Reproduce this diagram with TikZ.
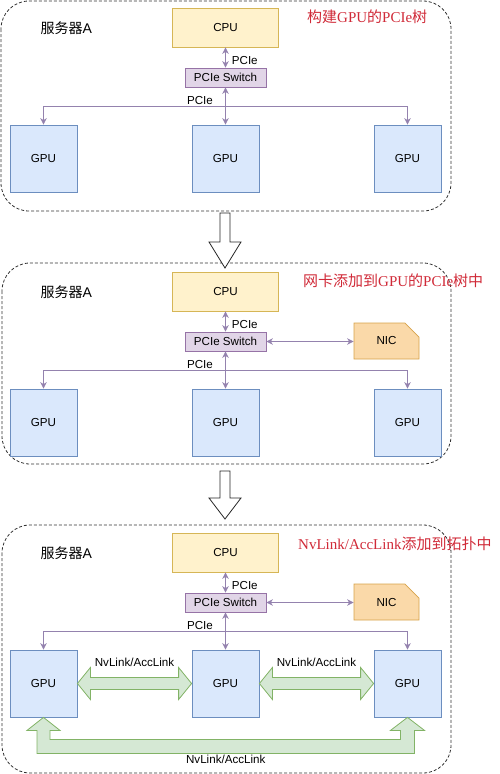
\documentclass[tikz,border=0pt]{standalone}
\usepackage{fontspec}
\setmainfont{Liberation Sans}
\newfontfamily\cjk{Noto Sans CJK SC}
\newfontfamily\serifl{Liberation Serif}
\usepackage{tikz}
\usetikzlibrary{calc}
\usetikzlibrary{arrows.meta}
\usetikzlibrary{shapes.misc}
\usepackage{xcolor}
\definecolor{cpufill}{HTML}{FFF2CC}
\definecolor{cpuline}{HTML}{D6B656}
\definecolor{swfill}{HTML}{E1D5E7}
\definecolor{swline}{HTML}{9673A6}
\definecolor{gpufill}{HTML}{DAE8FC}
\definecolor{gpuline}{HTML}{6C8EBF}
\definecolor{nicfill}{HTML}{FAD9A9}
\definecolor{nicline}{HTML}{D7A34B}
\definecolor{nvfill}{HTML}{D5E8D4}
\definecolor{nvline}{HTML}{82B366}
\definecolor{pcieline}{HTML}{9482AE}
\definecolor{titlered}{HTML}{D02A38}

\begin{document}
\begin{tikzpicture}[x=1pt,y=-1pt,font=\fontsize{11.6}{13}\selectfont,>={Stealth[length=6.5pt,width=6.5pt]}]
				    \tikzstyle{panel}=[draw=black!80,line width=.8pt,dash pattern=on 3pt off 2pt,rounded corners=28pt]
				    \tikzstyle{cpu}=[draw=cpuline,fill=cpufill,line width=.8pt,minimum width=106pt,minimum height=39pt,inner sep=0pt]
				    \tikzstyle{switch}=[draw=swline,fill=swfill,line width=.8pt,minimum width=81pt,minimum height=19pt,inner sep=0pt]
				    \tikzstyle{gpu}=[draw=gpuline,fill=gpufill,line width=.8pt,minimum width=67pt,minimum height=67pt,inner sep=0pt]
				    \tikzstyle{nic}=[chamfered rectangle,chamfered rectangle corners=north east,chamfered rectangle xsep=14pt,chamfered rectangle ysep=14pt,draw=nicline,fill=nicfill,line width=.8pt,minimum width=65pt,minimum height=36pt,inner sep=0pt]
				    \tikzstyle{pcie}=[draw=pcieline,line width=.8pt]
				    \tikzstyle{nvlink}=[draw=nvline,fill=nvfill,line width=.8pt,line join=miter]
				    \tikzstyle{hollow}=[draw=black!85,fill=white,line width=.8pt,line join=miter]
				    \tikzstyle{title}=[anchor=west,text=titlered,font=\fontsize{15}{17}\selectfont,inner sep=0pt]
				    \useasboundingbox (0,0) rectangle (500,774);
				    % three servers
				    \draw[panel] (1,1) rectangle (451,211);
				    \draw[panel] (2,263) rectangle (451,464);
				    \draw[panel] (2,525) rectangle (451,773);
				    \draw[hollow] (220,213) -- (230,213) -- (230,242) -- (241,242) -- (225,268) -- (209,242) -- (220,242) -- cycle;
				    \draw[hollow] (220,471) -- (230,471) -- (230,498) -- (241,498) -- (225,519) -- (209,498) -- (220,498) -- cycle;
				    \foreach \p/\dy in {a/0,b/264,c/525}{
				        \node[cpu] (cpu\p) at (225.5,\dy+27.5) {CPU};
				        \node[switch] (sw\p) at (225.5,\dy+77.5) {PCIe Switch};
				        \node[gpu] (gpuL\p) at (43.5,\dy+158.5) {GPU};
				        \node[gpu] (gpuM\p) at (225.5,\dy+158.5) {GPU};
				        \node[gpu] (gpuR\p) at (407.5,\dy+158.5) {GPU};
				        \node[anchor=west,font=\fontsize{14}{16}\selectfont] (srv\p) at (37,\dy+28.5) {{\cjk 服务器}A};
				        \coordinate (bus\p) at (225.5,\dy+106.5);
				        \draw[pcie,<->] (cpu\p) -- node[pos=.65,right=6pt,inner sep=0pt] {PCIe} (sw\p);
				        \draw[pcie,<->] (sw\p) -- (gpuM\p);
				        \draw[pcie,->] (bus\p) -| node[pos=.07,above=1.5pt,inner sep=0pt] {PCIe} (gpuL\p);
				        \draw[pcie,->] (bus\p) -| (gpuR\p);
				    }
				    \node[title] (ttla) at (307,17) {{\cjk 构建}{\serifl GPU}{\cjk 的}{\serifl PCIe}{\cjk 树}};
				    \node[title] (ttlb) at (303,281) {{\cjk 网卡添加到}{\serifl GPU}{\cjk 的}{\serifl PCIe}{\cjk 树中}};
				    \node[title] (ttlc) at (298,544) {{\serifl NvLink/AccLink}{\cjk 添加到拓扑中}};
				    % network card
				    \foreach \p/\dy in {b/264,c/525}{
				        \node[nic] (nic\p) at (386.5,\dy+77) {NIC};
				        \draw[pcie,<->] (sw\p.east) -- (sw\p.east -| nic\p.west);
				    }
				    % nvlink
				    \draw[nvlink] (gpuLc.east) -- ++(13,-16) -- ++(0,10) -- node[above=10pt,inner sep=0pt] {NvLink/AccLink} ($(gpuMc.west)+(-13,-6)$) -- ++(0,-10) -- (gpuMc.west) -- ++(-13,16) -- ++(0,-10) -- ($(gpuLc.east)+(13,6)$) -- ++(0,10) -- cycle;
				    \draw[nvlink] (gpuMc.east) -- ++(13,-16) -- ++(0,10) -- node[above=10pt,inner sep=0pt] {NvLink/AccLink} ($(gpuRc.west)+(-13,-6)$) -- ++(0,-10) -- (gpuRc.west) -- ++(-13,16) -- ++(0,-10) -- ($(gpuMc.east)+(13,6)$) -- ++(0,10) -- cycle;
				    \draw[nvlink] (gpuLc.south) -- ++(16.5,13) -- ++(-10,0) -- ++(0,9) -- ($(gpuRc.south)+(-7,22)$) -- ++(0,-9) -- ++(-10,0) -- (gpuRc.south) -- ++(17,13) -- ++(-10,0) -- ++(0,23) -- node[below=1.5pt,inner sep=0pt] {NvLink/AccLink} ($(gpuLc.south)+(-6.5,36)$) -- ++(0,-23) -- ++(-10,0) -- cycle;
				\end{tikzpicture}
\end{document}
